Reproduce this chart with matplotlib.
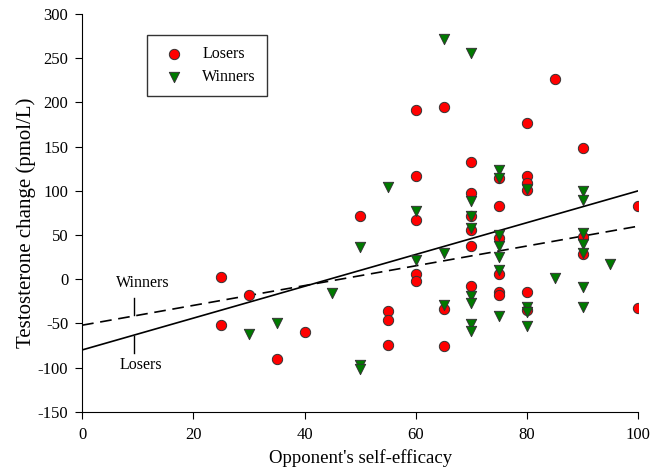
import numpy as np
from matplotlib import pyplot as plt

# Datos
losers_x = [25, 25, 30, 35, 40, 50, 55, 55, 55, 60, 60, 60, 60, 60,
            65, 65, 65, 70, 70, 70, 70, 70, 70, 75, 75, 75, 75, 75, 75,
            80, 80, 80, 80, 80, 80, 85, 90, 90, 90, 100, 100]
losers_y = [2, -52, -18, -90, -60, 71, -36, -46, -74, 191, 117, 67, 6, -2,
            195, -34, -76, 133, 97, 71, 56, 38, -8, 115, 83, 47, 6, -14, -18,
            177, 117, 109, 101, -14, -35, 227, 149, 48, 29, 83, -32]

winners_x = [30, 35, 45, 50, 50, 50, 55, 60, 60, 65, 65, 65,
             70, 70, 70, 70, 70, 70, 70, 70, 75, 75, 75, 75, 75, 75, 75,
             80, 80, 80, 80, 85, 90, 90, 90, 90, 90, 90, 90, 95]
winners_y = [-62, -50, -15, 36, -97, -101, 104, 77, 22, 272, 30, -29,
             256, 88, 72, 58, -19, -27, -51, -58, 124, 114, 50, 38, 25, 10, -42,
             102, -31, -37, -53, 1, 100, 90, 52, 40, 30, -9, -31, 17]

# rectas de regresion (ordenada, pendiente)
linea_losers = (-80, 1.8)
linea_winners = (-52, 1.12)

plt.rcParams['font.family'] = ['Liberation Serif', 'DejaVu Serif']
plt.rcParams['axes.unicode_minus'] = False

fig = plt.figure(figsize=(6.62, 4.68), dpi=100)
ax = fig.add_axes([0.124, 0.12, 0.84, 0.85])

xs = np.array([0, 100])
ax.plot(xs, linea_losers[0] + linea_losers[1] * xs, color='black', lw=1.2, zorder=1)
ax.plot(xs, linea_winners[0] + linea_winners[1] * xs, color='black', lw=1.2,
        dashes=(7, 4), zorder=1)

ax.scatter(losers_x, losers_y, s=55, marker='o', color='#ff0000',
           edgecolor='#333333', linewidth=0.7, label='Losers', zorder=3)
ax.scatter(winners_x, winners_y, s=55, marker='v', color='#007a00',
           edgecolor='#333333', linewidth=0.7, label='Winners', zorder=3)

# etiquetas de las rectas
ax.plot([9.35, 9.35], [-21, -41], color='black', lw=1)
ax.text(10.9, -4, 'Winners', ha='center', va='center', fontsize=11.5)
ax.plot([9.35, 9.35], [-64, -83], color='black', lw=1)
ax.text(10.6, -97, 'Losers', ha='center', va='center', fontsize=11.5)

ax.set_xlim(0, 100)
ax.set_ylim(-150, 300)
ax.set_xticks(range(0, 101, 20))
ax.set_yticks(range(-150, 301, 50))
ax.tick_params(direction='out', length=5, labelsize=12)
ax.tick_params(axis='x', pad=6)
ax.tick_params(axis='y', pad=5)
ax.spines['top'].set_visible(False)
ax.spines['right'].set_visible(False)

ax.set_xlabel("Opponent's self-efficacy", fontsize=13.5, labelpad=4)
ax.set_ylabel('Testosterone change (pmol/L)', fontsize=15)
ax.yaxis.set_label_coords(-0.083, 0.475)

leg = ax.legend(loc='upper left', bbox_to_anchor=(0.117, 0.947), fontsize=11.5,
                frameon=True, fancybox=False, edgecolor='black',
                borderpad=0.7, borderaxespad=0, handlelength=2.0,
                handletextpad=0.75, labelspacing=0.4)
leg.get_frame().set_linewidth(1.0)

plt.savefig('out.png', dpi=100)
